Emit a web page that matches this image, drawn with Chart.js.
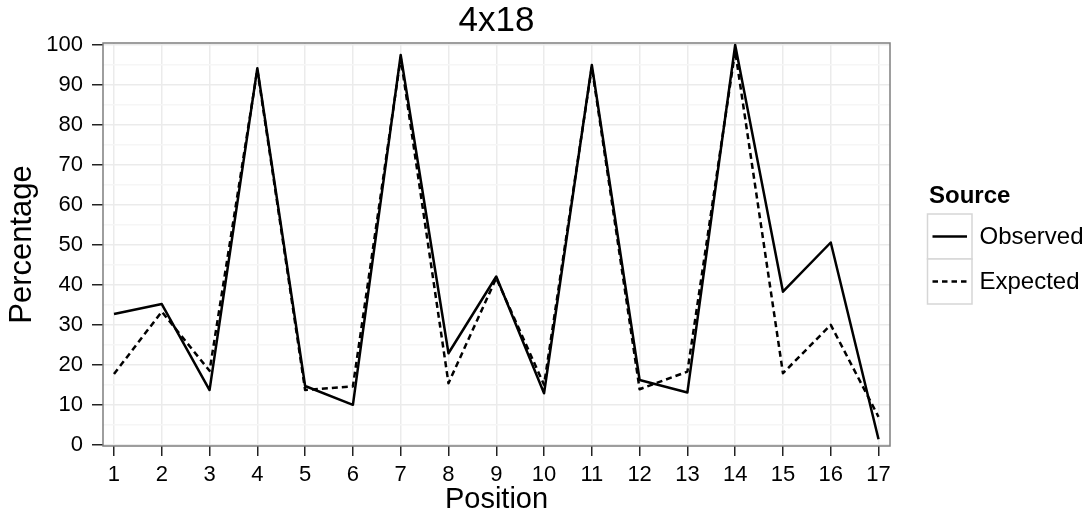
<!DOCTYPE html>
<html>
<head>
<meta charset="utf-8">
<script src="https://cdn.jsdelivr.net/npm/chart.js@4/dist/chart.umd.min.js"></script>
<style>
  html, body { margin: 0; padding: 0; background: #ffffff; }
  #wrap { width: 1087px; height: 519px; }
</style>
</head>
<body>
<div id="wrap"><canvas id="c" width="1087" height="519"></canvas></div>
<script>
const chartTitle = '4x18';
const positions = [1, 2, 3, 4, 5, 6, 7, 8, 9, 10, 11, 12, 13, 14, 15, 16, 17];
const observed = [32.7, 35.2, 13.7, 94.2, 14.7, 10.0, 97.5, 22.9, 42.1, 12.9, 95.0, 16.2, 13.1, 100, 38.3, 50.6, 1.4];
const expected = [17.7, 33.3, 18.5, 93.8, 13.7, 14.6, 96.8, 15.4, 41.7, 15.0, 94.5, 13.9, 18.3, 98.5, 17.9, 30.0, 7.0];
const yTicks = [0, 5, 10, 15, 20, 25, 30, 35, 40, 45, 50, 55, 60, 65, 70, 75, 80, 85, 90, 95, 100];
const seriesNames = ['Observed', 'Expected'];
const legendTitle = 'Source';
const xTitle = 'Position';
const yTitle = 'Percentage';

const FONT = '"Liberation Sans", Arial, Helvetica, sans-serif';

const decorPlugin = {
  id: 'decor',
  afterDatasetsDraw(chart) {
    const ctx = chart.ctx;
    const a = chart.chartArea;
    ctx.save();
    ctx.strokeStyle = '#7f7f7f';
    ctx.lineWidth = 1.5;
    ctx.strokeRect(a.left, a.top, a.right - a.left, a.bottom - a.top);
    ctx.restore();
  },
  afterDraw(chart) {
    const ctx = chart.ctx;
    const a = chart.chartArea;
    ctx.save();
    ctx.fillStyle = '#000';
    ctx.font = '35px ' + FONT;
    ctx.textAlign = 'center';
    ctx.textBaseline = 'middle';
    ctx.fillText(chartTitle, (a.left + a.right) / 2, 21.5);

    const lx = a.right + 37.5;
    const boxW = 44.5, boxH = 45;
    const top0 = 214;
    ctx.textAlign = 'left';
    ctx.font = 'bold 24px ' + FONT;
    ctx.fillText(legendTitle, lx + 1.5, 196);
    const dashes = [[], [5.5, 4]];
    for (let i = 0; i < seriesNames.length; i++) {
      const ty = top0 + i * boxH;
      ctx.fillStyle = '#ffffff';
      ctx.fillRect(lx, ty, boxW, boxH);
      ctx.strokeStyle = '#d6d6d6';
      ctx.lineWidth = 1.5;
      ctx.strokeRect(lx, ty, boxW, boxH);
      ctx.strokeStyle = '#000';
      ctx.lineWidth = 2.5;
      ctx.setLineDash(dashes[i]);
      ctx.beginPath();
      ctx.moveTo(lx + 5, ty + boxH / 2);
      ctx.lineTo(lx + boxW - 5, ty + boxH / 2);
      ctx.stroke();
      ctx.setLineDash([]);
      ctx.fillStyle = '#000';
      ctx.font = '24px ' + FONT;
      ctx.textBaseline = 'middle';
      ctx.fillText(seriesNames[i], lx + 52, ty + boxH / 2 + 1);
    }
    ctx.restore();
  }
};

new Chart(document.getElementById('c'), {
  type: 'line',
  data: {
    datasets: [
      {
        label: seriesNames[0],
        data: positions.map((p, i) => ({ x: p, y: observed[i] })),
        borderColor: '#000000',
        borderWidth: 2.5,
        pointRadius: 0,
        tension: 0,
        borderJoinStyle: 'round',
        fill: false
      },
      {
        label: seriesNames[1],
        data: positions.map((p, i) => ({ x: p, y: expected[i] })),
        borderColor: '#000000',
        borderWidth: 2.5,
        borderDash: [6, 4],
        pointRadius: 0,
        tension: 0,
        borderJoinStyle: 'round',
        fill: false
      }
    ]
  },
  options: {
    responsive: false,
    animation: false,
    devicePixelRatio: 1,
    layout: { padding: { left: 0, right: 197, top: 43, bottom: 0 } },
    plugins: {
      legend: { display: false },
      title: { display: false },
      tooltip: { enabled: false }
    },
    scales: {
      x: {
        type: 'linear',
        min: 0.77,
        max: 17.24,
        afterBuildTicks(scale) { scale.ticks = positions.map(v => ({ value: v })); },
        afterFit(scale) { scale.height = 73; },
        ticks: {
          color: '#000',
          font: { family: FONT, size: 22 },
          padding: 6,
          maxRotation: 0,
          autoSkip: false,
          callback: v => String(v)
        },
        grid: {
          color: '#ebebeb',
          lineWidth: 1.5,
          tickColor: '#222',
          tickLength: 10,
          tickWidth: 1.5
        },
        border: { display: false },
        title: {
          display: true,
          text: xTitle,
          color: '#000',
          font: { family: FONT, size: 29 },
          padding: { top: 0, bottom: 2 }
        }
      },
      y: {
        type: 'linear',
        min: -0.3,
        max: 100.5,
        afterBuildTicks(scale) { scale.ticks = yTicks.map(v => ({ value: v })); },
        afterFit(scale) { scale.width = 103; },
        ticks: {
          color: '#000',
          font: { family: FONT, size: 22 },
          padding: 9,
          autoSkip: false,
          callback: v => (v % 10 === 0 ? String(v) : '')
        },
        grid: {
          color: c => (c.tick && c.tick.value % 10 === 0 ? '#ebebeb' : '#f6f6f6'),
          lineWidth: 1.5,
          tickColor: c => (c.tick && c.tick.value % 10 === 0 ? '#222' : 'rgba(0,0,0,0)'),
          tickLength: 11,
          tickWidth: 1.5
        },
        border: { display: false },
        title: {
          display: true,
          text: yTitle,
          color: '#000',
          font: { family: FONT, size: 31 },
          padding: { top: 4, bottom: 0 }
        }
      }
    }
  },
  plugins: [decorPlugin]
});
</script>
</body>
</html>
